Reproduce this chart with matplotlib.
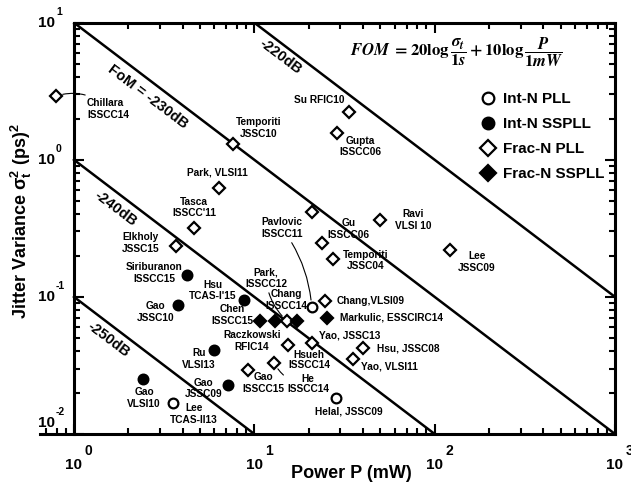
import numpy as np
import matplotlib
matplotlib.use("Agg")
import matplotlib.pyplot as plt
from matplotlib.ticker import FixedLocator, LogLocator, NullFormatter

plt.rcParams['font.family'] = ['Liberation Sans', 'DejaVu Sans']
plt.rcParams['font.weight'] = 'bold'
plt.rcParams['mathtext.fontset'] = 'custom'
plt.rcParams['mathtext.rm'] = 'Liberation Sans:bold'
plt.rcParams['mathtext.bf'] = 'Liberation Sans:bold'
plt.rcParams['mathtext.it'] = 'Liberation Sans:bold'

# Int-N PLL (open circles)
intn_pll_p = [3.55, 20.8, 28.4]
intn_pll_j = [0.0168, 0.0845, 0.0184]
intn_pll_lbl = ["Lee\nTCAS-II13", "Pavlovic\nISSCC11", "Helal, JSSC09"]

# Int-N SSPLL (filled circles)
intn_sspll_p = [4.25, 3.79, 8.77, 5.98, 2.42, 7.18]
intn_sspll_j = [0.144, 0.0869, 0.0957, 0.0408, 0.0251, 0.0229]
intn_sspll_lbl = ["Siriburanon\nISSCC15", "Gao\nJSSC10", "Hsu\nTCAS-I'15",
                  "Ru\nVLSI13", "Gao\nVLSI10", "Gao\nJSSC09"]

# Frac-N PLL (open diamonds)
fracn_pll_p = [0.795, 7.65, 6.37, 4.63, 3.66, 33.6, 28.9, 21.0, 23.6, 27.4,
               49.8, 121.7, 24.7, 20.8, 39.9, 35.4, 15.4, 12.9, 9.26, 15.2]
fracn_pll_j = [2.92, 1.30, 0.625, 0.316, 0.234, 2.24, 1.56, 0.419, 0.248, 0.1875,
               0.363, 0.219, 0.093, 0.0461, 0.0427, 0.0355, 0.0449, 0.033, 0.0292, 0.0668]
fracn_pll_lbl = ["Chillara\nISSCC14", "Temporiti\nJSSC10", "Park, VLSI11", "Tasca\nISSCC'11",
                 "Elkholy\nJSSC15", "Su RFIC10", "Gupta\nISSCC06", "", "Gu\nISSCC06",
                 "Temporiti\nJSSC04", "Ravi\nVLSI 10", "Lee\nJSSC09", "Chang,VLSI09",
                 "Yao, JSSC13", "Hsu, JSSC08", "Yao, VLSI11", "Hsueh\nISSCC14",
                 "He\nISSCC14", "Gao\nISSCC15", "Park,\nISSCC12"]

# Frac-N SSPLL (filled diamonds)
fracn_sspll_p = [10.8, 13.0, 17.2, 25.2]
fracn_sspll_j = [0.0665, 0.0665, 0.0665, 0.0707]
fracn_sspll_lbl = ["Chen\nISSCC15", "Raczkowski\nRFIC14", "Chang\nISSCC14", "Markulic, ESSCIRC14"]

series_names = ["Int-N PLL", "Int-N SSPLL", "Frac-N PLL", "Frac-N SSPLL"]

fom_levels = [-220, -230, -240, -250]
fom_texts = ["-220dB", "FoM = -230dB", "-240dB", "-250dB"]

x_ticks = [1, 10, 100, 1000]
y_ticks = [10, 1, 0.1, 0.01]

# label layout: offset in pixels from marker, alignment
intn_pll_off = [(21, -11, 'center'), (-30, 79, 'center'), (13, -14, 'center')]
intn_sspll_off = [(-33, 2, 'center'), (-23, -7, 'center'), (-31, 9, 'center'),
                  (-15, -9, 'center'), (1, -19, 'center'), (-25, -4, 'center')]
fracn_pll_off = [(31, -13, 'left'), (25, 16, 'center'), (-2, 15, 'center'), (0, 21, 'center'),
                 (-35, 3, 'center'), (-30, 12, 'center'), (23, -13, 'center'), (0, 0, 'center'),
                 (27, 14, 'center'), (32, -1, 'center'), (33, 0, 'center'), (27, -12, 'center'),
                 (11, 0, 'left'), (7, 8, 'left'), (14, -1, 'left'), (8, -8, 'left'),
                 (21, -15, 'center'), (34, -21, 'center'), (15, -13, 'center'), (-21, 43, 'center')]
fracn_sspll_off = [(-28, 6, 'center'), (-23, -20, 'center'), (-10, 21, 'center'), (13, 0, 'left')]

leaders = {"Chillara\nISSCC14": 0.3, "Pavlovic\nISSCC11": -0.15,
           "Park,\nISSCC12": 0.2, "He\nISSCC14": -0.3}


def draw_series(ax, xs, ys, labels, offsets, marker, face, name, ms):
    line, = ax.plot(xs, ys, linestyle='none', marker=marker, ms=ms, mfc=face,
                    mec='black', mew=1.6, clip_on=False, zorder=4, label=name)
    for x, y, lab, (dx, dy, ha) in zip(xs, ys, labels, offsets):
        if not lab:
            continue
        arrow = None
        if lab in leaders:
            arrow = dict(arrowstyle='-', lw=0.8, color='black', shrinkA=1, shrinkB=5,
                         connectionstyle='arc3,rad=%.2f' % leaders[lab])
        ls = 1.0 if lab.endswith('ISSCC14') and lab[0] == 'H' else 1.2
        ax.annotate(lab, (x, y), xytext=(dx, dy), textcoords='offset pixels',
                    ha=ha, va='center', fontsize=7.3, fontweight='bold',
                    linespacing=ls, arrowprops=arrow, zorder=5, annotation_clip=False)
    return line


fig = plt.figure(figsize=(6.31, 4.87), dpi=100)
ax = fig.add_axes([40 / 631, 1 - 434 / 487, 575 / 631, 411.3 / 487])
ax.set_xscale('log')
ax.set_yscale('log')
ax.set_xlim(0.648, 1000)
ax.set_ylim(0.01, 10)

# constant-FoM lines: FoM = 10log(sigma^2 / 1s^2) + 10log(P / 1mW)
p = np.logspace(0, 3, 200)
for f in fom_levels:
    ax.plot(p, 10 ** ((f + 240) / 10) / p, color='black', lw=1.8, zorder=2)

fom_pos = [(13.9, 5.65), (2.58, 2.88), (1.70, 0.442), (1.56, 0.0491)]
for t, (x, y) in zip(fom_texts, fom_pos):
    ax.text(x, y, t, rotation=-37, ha='center', va='center', fontsize=10.5,
            fontweight='bold', rotation_mode='anchor')

h1 = draw_series(ax, intn_pll_p, intn_pll_j, intn_pll_lbl, intn_pll_off, 'o', 'white', series_names[0], 7)
h2 = draw_series(ax, intn_sspll_p, intn_sspll_j, intn_sspll_lbl, intn_sspll_off, 'o', 'black', series_names[1], 7)
h3 = draw_series(ax, fracn_pll_p, fracn_pll_j, fracn_pll_lbl, fracn_pll_off, 'D', 'white', series_names[2], 6.5)
h4 = draw_series(ax, fracn_sspll_p, fracn_sspll_j, fracn_sspll_lbl, fracn_sspll_off, 'D', 'black', series_names[3], 6.5)

ax.legend(handles=[h1, h2, h3, h4], loc='upper left', bbox_to_anchor=(0.765, 0.831),
          frameon=False, prop={'size': 11, 'weight': 'bold'}, markerscale=1.2,
          handlelength=1.0, handletextpad=0.5, labelspacing=0.72,
          borderpad=0, borderaxespad=0)

ax.text(0.725, 0.929, r'$FOM\ =20\log\dfrac{\sigma_t}{1s}+10\log\dfrac{P}{1mW}$',
        transform=ax.transAxes, ha='center', va='center', fontsize=12,
        fontweight='normal', math_fontfamily='stix')

# axes styling
ax.spines['left'].set_position(('data', 1))
ax.spines['top'].set_bounds(1, 1000)
for s in ax.spines.values():
    s.set_linewidth(2.2)

ax.xaxis.set_major_locator(FixedLocator(x_ticks))
ax.xaxis.set_minor_locator(LogLocator(base=10, subs=range(2, 10)))
ax.xaxis.set_minor_formatter(NullFormatter())
ax.yaxis.set_major_locator(FixedLocator(y_ticks))
ax.yaxis.set_minor_locator(LogLocator(base=10, subs=range(2, 10)))
ax.yaxis.set_minor_formatter(NullFormatter())

ax.tick_params(which='both', direction='in', top=False, right=True, width=1.5,
               labelbottom=False, labelleft=False)
ax.tick_params(which='major', length=7)
ax.tick_params(which='minor', length=4)

sec = ax.secondary_xaxis('top')
sec.xaxis.set_major_locator(FixedLocator(x_ticks))
sec.xaxis.set_minor_locator(FixedLocator([m * 10 ** k for k in range(3) for m in range(2, 10)]))
sec.tick_params(which='both', direction='in', labeltop=False, width=1.5)
sec.tick_params(which='major', length=7)
sec.tick_params(which='minor', length=4)
sec.spines['top'].set_visible(False)

# decade tick labels, "10" with a raised exponent
xb = ax.get_xaxis_transform()
for v in x_ticks:
    e = int(round(np.log10(v)))
    ax.annotate('10', (v, 0), xycoords=xb, xytext=(0, -24), textcoords='offset pixels',
                ha='center', va='top', fontsize=11, annotation_clip=False)
    ax.annotate(str(e), (v, 0), xycoords=xb, xytext=(11, -21), textcoords='offset pixels',
                ha='left', va='baseline', fontsize=10, annotation_clip=False)
for v in y_ticks:
    e = int(round(np.log10(v)))
    dy = 11 if e == -2 else 0
    ax.annotate('10', (1, v), xytext=(-19, dy), textcoords='offset pixels',
                ha='right', va='center', fontsize=11, annotation_clip=False)
    ax.annotate(str(e), (1, v), xytext=(-18, dy + 8), textcoords='offset pixels',
                ha='left', va='baseline', fontsize=7.5, annotation_clip=False)

ax.set_xlabel('Power P (mW)', fontsize=13, fontweight='bold')
ax.xaxis.set_label_coords(0.541, -0.0754)
ax.set_ylabel(r'Jitter Variance $\mathbf{\sigma_t^2}$ (ps)$\mathbf{^2}$', fontsize=13, fontweight='bold')
ax.yaxis.set_label_coords(-0.0104, 0.517)

fig.savefig('out.png', dpi=100)
